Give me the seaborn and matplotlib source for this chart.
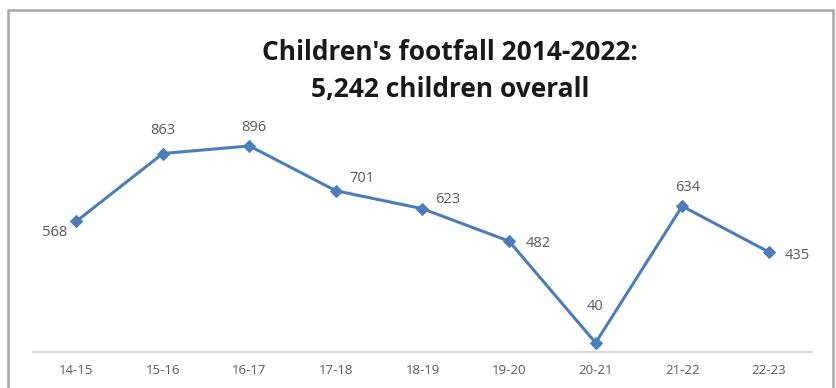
import matplotlib
matplotlib.use("Agg")
import matplotlib.pyplot as plt
import seaborn as sns
import pandas as pd
from matplotlib.patches import Rectangle

categories = ["14-15", "15-16", "16-17", "17-18", "18-19", "19-20", "20-21", "21-22", "22-23"]
values = [568, 863, 896, 701, 623, 482, 40, 634, 435]
title_lines = ["Children's footfall 2014-2022:", "5,242 children overall"]
# label centre offsets from the point, in pixels (dx right, dy up)
label_offsets = [(-22, -11), (0, 23), (4, 18), (26, 12), (25, 9),
                 (29, -2), (-1, 36), (6, 19), (29, -4)]

sns.set_style("white")
plt.rcParams['font.family'] = ['Open Sans', 'DejaVu Sans']

df = pd.DataFrame({"cat": categories, "val": values})

fig = plt.figure(figsize=(8.37, 3.88), dpi=100)
ax = fig.add_axes([33/837, 1-352/388, (812-33)/837, (352-122)/388])
color = "#4A7DBA"
sns.lineplot(data=df, x="cat", y="val", ax=ax, color=color, linewidth=2.2,
             marker="D", markersize=6, markeredgecolor=color, sort=False)

ax.set_xlim(-0.5, len(categories)-0.5)
ax.set_ylim(0, 1000)
ax.set_xlabel("")
ax.set_ylabel("")
ax.set_yticks([])
for s in ["top", "right", "left"]:
    ax.spines[s].set_visible(False)
ax.spines["bottom"].set_color("#D9D9D9")
ax.spines["bottom"].set_linewidth(1.5)
ax.tick_params(axis="x", length=0, pad=9, labelsize=9.5, labelcolor="#595959")
ax.patch.set_alpha(0)

for i, (v, (dx, dy)) in enumerate(zip(values, label_offsets)):
    ax.annotate(str(v), (i, v), xytext=(dx, dy), textcoords="offset pixels",
                ha="center", va="center", fontsize=10.5, color="#595959")

fig.text(450/837, 1-60/388, title_lines[0], ha="center", va="baseline",
         fontsize=19, fontweight="bold", color="#1a1a1a")
fig.text(450/837, 1-97/388, title_lines[1], ha="center", va="baseline",
         fontsize=19, fontweight="bold", color="#1a1a1a")

fig.patches.append(Rectangle((8/837, -0.05), (833-8)/837, 1-10/388+0.05,
                             transform=fig.transFigure, fill=False,
                             edgecolor="#A6A6A6", linewidth=1.8))

fig.savefig("out.png", dpi=100)
